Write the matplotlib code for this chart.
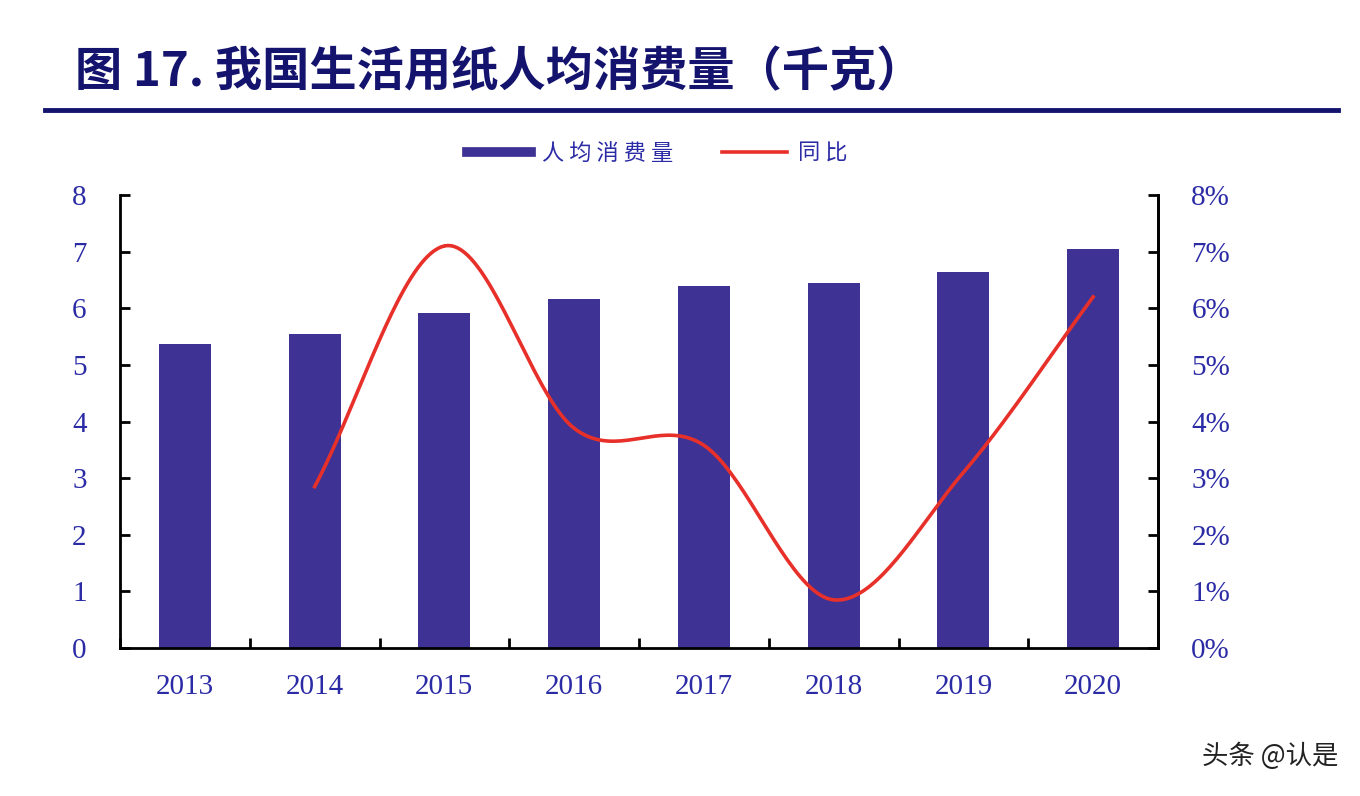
import numpy as np
import matplotlib.pyplot as plt
from matplotlib.lines import Line2D

years = ['2013', '2014', '2015', '2016', '2017', '2018', '2019', '2020']
per_capita = [5.37, 5.55, 5.92, 6.17, 6.40, 6.45, 6.64, 7.05]
yoy = [None, 2.85, 7.1, 3.88, 3.58, 0.85, 3.1, 6.2]  # percent

bar_color = '#3e3394'
line_color = '#e8302a'
text_blue = '#2b2ba6'
navy = '#14146e'

plt.rcParams['font.family'] = ['Noto Sans CJK SC', 'DejaVu Sans']

fig = plt.figure(figsize=(13.6, 7.96), dpi=100)
ax = fig.add_axes([120 / 1360, 1 - 648 / 796, (1158 - 120) / 1360, (648 - 195) / 796])

x = np.arange(len(years))
ax.bar(x, per_capita, width=0.4, color=bar_color, zorder=2)
ax.set_xlim(-0.5, len(years) - 0.5)
ax.set_ylim(0, 8)
ax.set_yticks(range(0, 9))
ax.set_xticks(x)
ax.set_xticklabels(years)
ax.set_xticks(np.arange(-0.5, len(years)), minor=True)
ax.tick_params(axis='x', which='major', length=0, pad=19)
ax.tick_params(axis='x', which='minor', direction='in', length=7, width=2)
ax.tick_params(axis='y', direction='in', length=7, width=2, pad=24)
for lab in ax.get_xticklabels() + ax.get_yticklabels():
    lab.set_fontfamily('Liberation Serif')
    lab.set_fontsize(21)
    lab.set_color(text_blue)
ax.spines['top'].set_visible(False)
for s in ['left', 'bottom', 'right']:
    ax.spines[s].set_linewidth(2)

# smoothed YoY line (Catmull-Rom through points, like Excel's smoothed line)
ax2 = ax.twinx()
ax2.set_ylim(0, 8)
px = np.array([i for i, v in enumerate(yoy) if v is not None], dtype=float)
py = np.array([v for v in yoy if v is not None], dtype=float)
P = np.column_stack([px, py])
P = np.vstack([P[0] * 2 - P[1], P, P[-1] * 2 - P[-2]])
curve = []
for i in range(1, len(P) - 2):
    p0, p1, p2, p3 = P[i - 1], P[i], P[i + 1], P[i + 2]
    t = np.linspace(0, 1, 40)[:, None]
    seg = 0.5 * ((2 * p1) + (-p0 + p2) * t + (2 * p0 - 5 * p1 + 4 * p2 - p3) * t ** 2
                 + (-p0 + 3 * p1 - 3 * p2 + p3) * t ** 3)
    curve.append(seg)
curve = np.vstack(curve)
ax2.plot(curve[:, 0], curve[:, 1], color=line_color, lw=2.6, zorder=3)
ax2.set_yticks(range(0, 9))
ax2.set_yticklabels([f'{i}%' for i in range(0, 9)])
ax2.tick_params(axis='y', direction='in', length=7, width=2, pad=24)
for lab in ax2.get_yticklabels():
    lab.set_fontfamily('Liberation Serif')
    lab.set_fontsize(21)
    lab.set_color(text_blue)
ax2.spines['top'].set_visible(False)
ax2.spines['right'].set_linewidth(2)

# legend
handles = [Line2D([0], [0], color=bar_color, lw=7), Line2D([0], [0], color=line_color, lw=2.6)]
fig.legend(handles, ['人 均 消 费 量', '同 比'], loc='center', bbox_to_anchor=(657 / 1360, 1 - 153 / 796),
           ncol=2, frameon=False, fontsize=16, handlelength=2.9, handletextpad=0.5,
           columnspacing=2.2, labelcolor=text_blue)

# title and rule
fig.text(75 / 1360, 1 - 72 / 796, '图 17. 我国生活用纸人均消费量（千克）', fontsize=34,
         fontweight='bold', color=navy, va='center', ha='left')
fig.add_artist(Line2D([45 / 1360, 1338 / 1360], [1 - 110 / 796] * 2, color=navy, lw=3.5))

fig.text(1338 / 1360, 1 - 756 / 796, '头条 @认是', fontsize=19, color='#222222', ha='right', va='center')

fig.savefig('out.png', dpi=100, facecolor='white')
